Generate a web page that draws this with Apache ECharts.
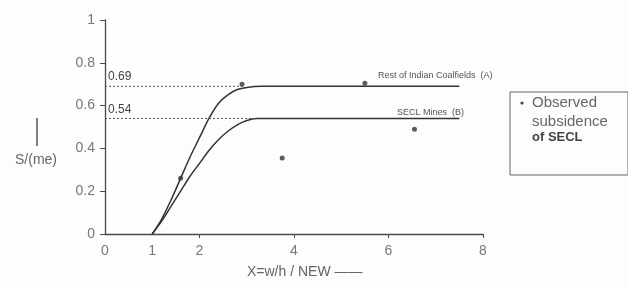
<!DOCTYPE html>
<html>
<head>
<meta charset="utf-8">
<script src="https://cdn.jsdelivr.net/npm/echarts@6/dist/echarts.min.js"></script>
<style>
html, body { margin: 0; padding: 0; background: #fdfdfd; }
#main { width: 628px; height: 287px; }
</style>
</head>
<body>
<div id="main"></div>
<script>
// 曲线 A：Rest of Indian Coalfields
var curveA = [[1, 0], [1.2, 0.07], [1.4, 0.16], [1.6, 0.26], [1.8, 0.36], [2.0, 0.45], [2.2, 0.54],
    [2.4, 0.61], [2.6, 0.65], [2.8, 0.675], [3.0, 0.685], [3.3, 0.69], [7.5, 0.69]];
// 曲线 B：SECL Mines
var curveB = [[1, 0], [1.2, 0.06], [1.4, 0.13], [1.6, 0.2], [1.8, 0.27], [2.0, 0.33], [2.2, 0.39],
    [2.4, 0.44], [2.6, 0.48], [2.8, 0.51], [3.0, 0.53], [3.2, 0.54], [7.5, 0.54]];
// 观测点
var observed = [[1.6, 0.26], [2.9, 0.7], [3.75, 0.355], [5.5, 0.705], [6.55, 0.49]];
// 虚线参考
var refA = [[0, 0.69], [2.9, 0.69]];
var refB = [[0, 0.54], [3.2, 0.54]];
var xLabels = [0, 1, 2, 4, 6, 8];
var xTicks = [2, 4, 6, 8];

var myChart = echarts.init(document.getElementById('main'));

var ink = '#4a4a4a';
var option = {
    backgroundColor: '#fdfdfd',
    textStyle: { fontFamily: 'Liberation Sans' },
    grid: { left: 105, right: 145, top: 20, bottom: 53 },
    xAxis: {
        type: 'value',
        min: 0, max: 8, interval: 1,
        axisLine: { lineStyle: { color: ink, width: 1.3 } },
        axisTick: { customValues: xTicks, length: 4, lineStyle: { color: ink } },
        axisLabel: { customValues: xLabels, color: '#777', fontSize: 14, margin: 10 },
        splitLine: { show: false }
    },
    yAxis: {
        type: 'value',
        min: 0, max: 1, interval: 0.2,
        axisLine: { show: true, lineStyle: { color: ink, width: 1.3 } },
        axisTick: { show: true, length: 5, lineStyle: { color: ink } },
        axisLabel: { color: '#777', fontSize: 14, margin: 10 },
        splitLine: { show: false }
    },
    series: [
        {
            type: 'line', data: curveA, smooth: 0.3, symbol: 'none',
            lineStyle: { color: '#333', width: 1.5 }
        },
        {
            type: 'line', data: curveB, smooth: 0.3, symbol: 'none',
            lineStyle: { color: '#333', width: 1.5 }
        },
        {
            type: 'line', data: refA, symbol: 'none',
            lineStyle: { color: '#555', width: 1, type: [2, 2] }
        },
        {
            type: 'line', data: refB, symbol: 'none',
            lineStyle: { color: '#555', width: 1, type: [2, 2] }
        },
        {
            type: 'scatter', data: observed, symbol: 'circle', symbolSize: 5,
            itemStyle: { color: '#333' }
        }
    ],
    graphic: [
        { type: 'text', left: 108, top: 71, style: { text: '0.69', fill: '#444', fontSize: 12 } },
        { type: 'text', left: 108, top: 104, style: { text: '0.54', fill: '#444', fontSize: 12 } },
        { type: 'text', left: 378, top: 71, style: { text: 'Rest of Indian Coalfields  (A)', fill: '#555', fontSize: 9 } },
        { type: 'text', left: 397, top: 108, style: { text: 'SECL Mines  (B)', fill: '#555', fontSize: 9 } },
        { type: 'rect', shape: { x: 510, y: 92, width: 118, height: 83 },
          style: { fill: 'none', stroke: '#666', lineWidth: 1 } },
        { type: 'circle', shape: { cx: 522, cy: 103, r: 1.6 }, style: { fill: '#444' } },
        { type: 'text', left: 532, top: 93, style: { text: 'Observed\nsubsidence', fill: '#666', fontSize: 15, lineHeight: 19 } },
        { type: 'text', left: 532, top: 131, style: { text: 'of SECL', fill: '#444', fontSize: 13, fontWeight: 'bold' } },
        { type: 'line', shape: { x1: 37, y1: 118, x2: 37, y2: 146 }, style: { stroke: '#555', lineWidth: 1.5 } },
        { type: 'text', left: 15, top: 153, style: { text: 'S/(me)', fill: '#666', fontSize: 14 } },
        { type: 'text', left: 247, top: 265, style: { text: 'X=w/h / NEW ——', fill: '#666', fontSize: 14 } }
    ]
};

myChart.setOption(option);
</script>
</body>
</html>
